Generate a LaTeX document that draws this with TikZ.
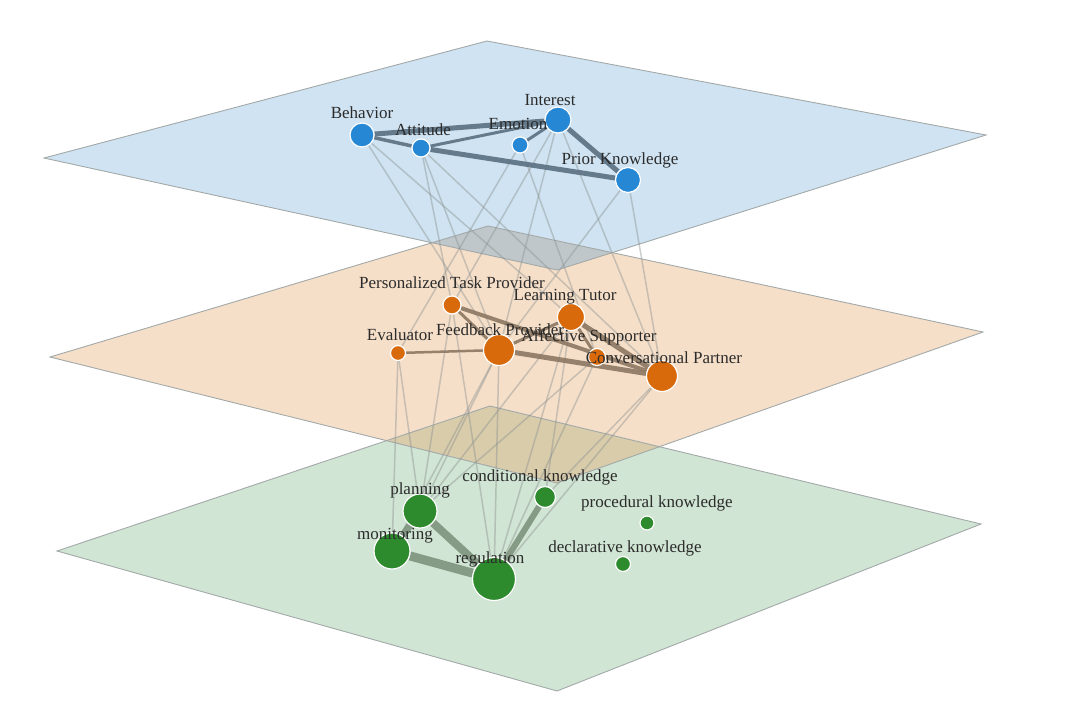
\documentclass[tikz,border=0pt]{standalone}
\usepackage{fontspec}
\setmainfont{Liberation Serif}
\usepackage{xcolor}
\usetikzlibrary{calc}
\definecolor{planeblue}{HTML}{CFE3F2}
\definecolor{planeorange}{HTML}{F6DFC8}
\definecolor{planegreen}{HTML}{D0E5D3}
\definecolor{overlapbo}{HTML}{BFC7CB}
\definecolor{overlapog}{HTML}{D9CCAA}
\definecolor{planeline}{HTML}{A3A9A9}
\definecolor{linkgray}{HTML}{8E9494}
\definecolor{topedgecol}{HTML}{5A7082}
\definecolor{midedgecol}{HTML}{8C7762}
\definecolor{botedgecol}{HTML}{7D937D}
\definecolor{nodeblue}{HTML}{2688D5}
\definecolor{nodeorange}{HTML}{D86A0B}
\definecolor{nodegreen}{HTML}{2D8A2D}
\definecolor{labeltext}{HTML}{2B2B2B}
\pgfdeclarelayer{planes}
\pgfdeclarelayer{links}
\pgfsetlayers{planes,links,main}

\begin{document}
\begin{tikzpicture}[x=1pt, y=-1pt,
    plane/.style={draw=planeline, line width=0.9pt},
    link/.style={draw=linkgray, line width=1.5pt, opacity=0.45},
    topedge/.style={draw=topedgecol, opacity=0.9},
    midedge/.style={draw=midedgecol, opacity=0.9},
    botedge/.style={draw=botedgecol, opacity=0.9},
    topnode/.style={circle, draw=white, line width=1.2pt, fill=nodeblue, inner sep=0pt},
    midnode/.style={circle, draw=white, line width=1.2pt, fill=nodeorange, inner sep=0pt},
    botnode/.style={circle, draw=white, line width=1.2pt, fill=nodegreen, inner sep=0pt},
    lbl/.style={font=\fontsize{17}{17}\selectfont, text=labeltext, inner sep=0pt}]
        \useasboundingbox (0,0) rectangle (1080,716);

        % learner layer
        \node [topnode, minimum size=24pt] (T1) at (362,135) {};
        \node [topnode, minimum size=18pt] (T2) at (421,148) {};
        \node [topnode, minimum size=16pt] (T3) at (520,145) {};
        \node [topnode, minimum size=26pt] (T4) at (558,120) {};
        \node [topnode, minimum size=25pt] (T5) at (628,180) {};
        \node [lbl] (T1l) at (362,113) {Behavior};
        \node [lbl] (T2l) at (423,130) {Attitude};
        \node [lbl] (T3l) at (518,124) {Emotion};
        \node [lbl] (T4l) at (550,100) {Interest};
        \node [lbl] (T5l) at (620,160) {Prior Knowledge};

        % role layer
        \node [midnode, minimum size=18pt] (M1) at (452,305) {};
        \node [midnode, minimum size=27pt] (M2) at (571,317) {};
        \node [midnode, minimum size=15pt] (M3) at (398,353) {};
        \node [midnode, minimum size=31pt] (M4) at (499,350) {};
        \node [midnode, minimum size=17pt] (M5) at (597,357) {};
        \node [midnode, minimum size=31pt] (M6) at (662,376) {};
        \node [lbl] (M1l) at (452,283) {Personalized Task Provider};
        \node [lbl] (M2l) at (565,297) {Learning Tutor};
        \node [lbl] (M3l) at (400,335) {Evaluator};
        \node [lbl] (M4l) at (500,330) {Feedback Provider};
        \node [lbl] (M5l) at (589,337) {Affective Supporter};
        \node [lbl] (M6l) at (664,358) {Conversational Partner};

        % knowledge layer
        \node [botnode, minimum size=34pt] (B1) at (420,511) {};
        \node [botnode, minimum size=21pt] (B2) at (545,497) {};
        \node [botnode, minimum size=36pt] (B3) at (392,551) {};
        \node [botnode, minimum size=43pt] (B4) at (494,579) {};
        \node [botnode, minimum size=14pt] (B5) at (647,523) {};
        \node [botnode, minimum size=15pt] (B6) at (623,564) {};
        \node [lbl] (B1l) at (420,490) {planning};
        \node [lbl] (B2l) at (540,477) {conditional knowledge};
        \node [lbl] (B3l) at (395,536) {monitoring};
        \node [lbl] (B4l) at (490,559) {regulation};
        \node [lbl] (B5l) at (657,503) {procedural knowledge};
        \node [lbl] (B6l) at (625,548) {declarative knowledge};

        \begin{pgfonlayer}{planes}
        \coordinate (tw) at (44,158);  \coordinate (tn) at (487,41);
        \coordinate (te) at (986,135); \coordinate (ts) at (557,270);
        \coordinate (mw) at (50,357);  \coordinate (mn) at (488,226);
        \coordinate (me) at (983,332); \coordinate (ms) at (557,483);
        \coordinate (bw) at (57,551);  \coordinate (bn) at (490,406);
        \coordinate (be) at (981,524); \coordinate (bs) at (557,691);
        \fill [planeblue] (tw) -- (tn) -- (te) -- (ts) -- cycle;
        \fill [planeorange] (mw) -- (mn) -- (me) -- (ms) -- cycle;
        \fill [planegreen] (bw) -- (bn) -- (be) -- (bs) -- cycle;
        \begin{scope}
            \clip (tw) -- (tn) -- (te) -- (ts) -- cycle;
            \fill [overlapbo] (mw) -- (mn) -- (me) -- (ms) -- cycle;
        \end{scope}
        \begin{scope}
            \clip (mw) -- (mn) -- (me) -- (ms) -- cycle;
            \fill [overlapog] (bw) -- (bn) -- (be) -- (bs) -- cycle;
        \end{scope}
        \draw [plane] (tw) -- (tn) -- (te) -- (ts) -- cycle;
        \draw [plane] (mw) -- (mn) -- (me) -- (ms) -- cycle;
        \draw [plane] (bw) -- (bn) -- (be) -- (bs) -- cycle;
        \end{pgfonlayer}

        \begin{pgfonlayer}{links}
        % between layers
        \draw [link] (T1) -- (M4);
        \draw [link] (T1) -- (M2);
        \draw [link] (T2) -- (M1);
        \draw [link] (T2) -- (M4);
        \draw [link] (T2) -- (M6);
        \draw [link] (T3) -- (M5);
        \draw [link] (T3) -- (M3);
        \draw [link] (T4) -- (M1);
        \draw [link] (T4) -- (M4);
        \draw [link] (T4) -- (M6);
        \draw [link] (T5) -- (M4);
        \draw [link] (T5) -- (M6);
        \draw [link] (M3) -- (B1);
        \draw [link] (M3) -- (B3);
        \draw [link] (M1) -- (B1);
        \draw [link] (M1) -- (B4);
        \draw [link] (M4) -- (B1);
        \draw [link] (M4) -- (B4);
        \draw [link] (M4) -- (B3);
        \draw [link] (M5) -- (B1);
        \draw [link] (M5) -- (B4);
        \draw [link] (M2) -- (B4);
        \draw [link] (M2) -- (B2);
        \draw [link] (M2) -- (B1);
        \draw [link] (M6) -- (B2);
        \draw [link] (M6) -- (B4);
        % within layers
        \draw [topedge, line width=5pt] (T1) -- (T4);
        \draw [topedge, line width=3.5pt] (T1) -- (T2);
        \draw [topedge, line width=5pt] (T2) -- (T5);
        \draw [topedge, line width=3pt] (T2) -- (T4);
        \draw [topedge, line width=3pt] (T3) -- (T4);
        \draw [topedge, line width=5pt] (T4) -- (T5);
        \draw [midedge, line width=3pt] (M1) -- (M4);
        \draw [midedge, line width=4pt] (M1) -- (M6);
        \draw [midedge, line width=2.5pt] (M3) -- (M4);
        \draw [midedge, line width=3pt] (M4) -- (M2);
        \draw [midedge, line width=5pt] (M4) -- (M6);
        \draw [midedge, line width=3pt] (M2) -- (M5);
        \draw [midedge, line width=5pt] (M2) -- (M6);
        \draw [botedge, line width=7pt] (B1) -- (B3);
        \draw [botedge, line width=8pt] (B1) -- (B4);
        \draw [botedge, line width=9pt] (B3) -- (B4);
        \draw [botedge, line width=6pt] (B4) -- (B2);
        \end{pgfonlayer}
    \end{tikzpicture}
\end{document}
